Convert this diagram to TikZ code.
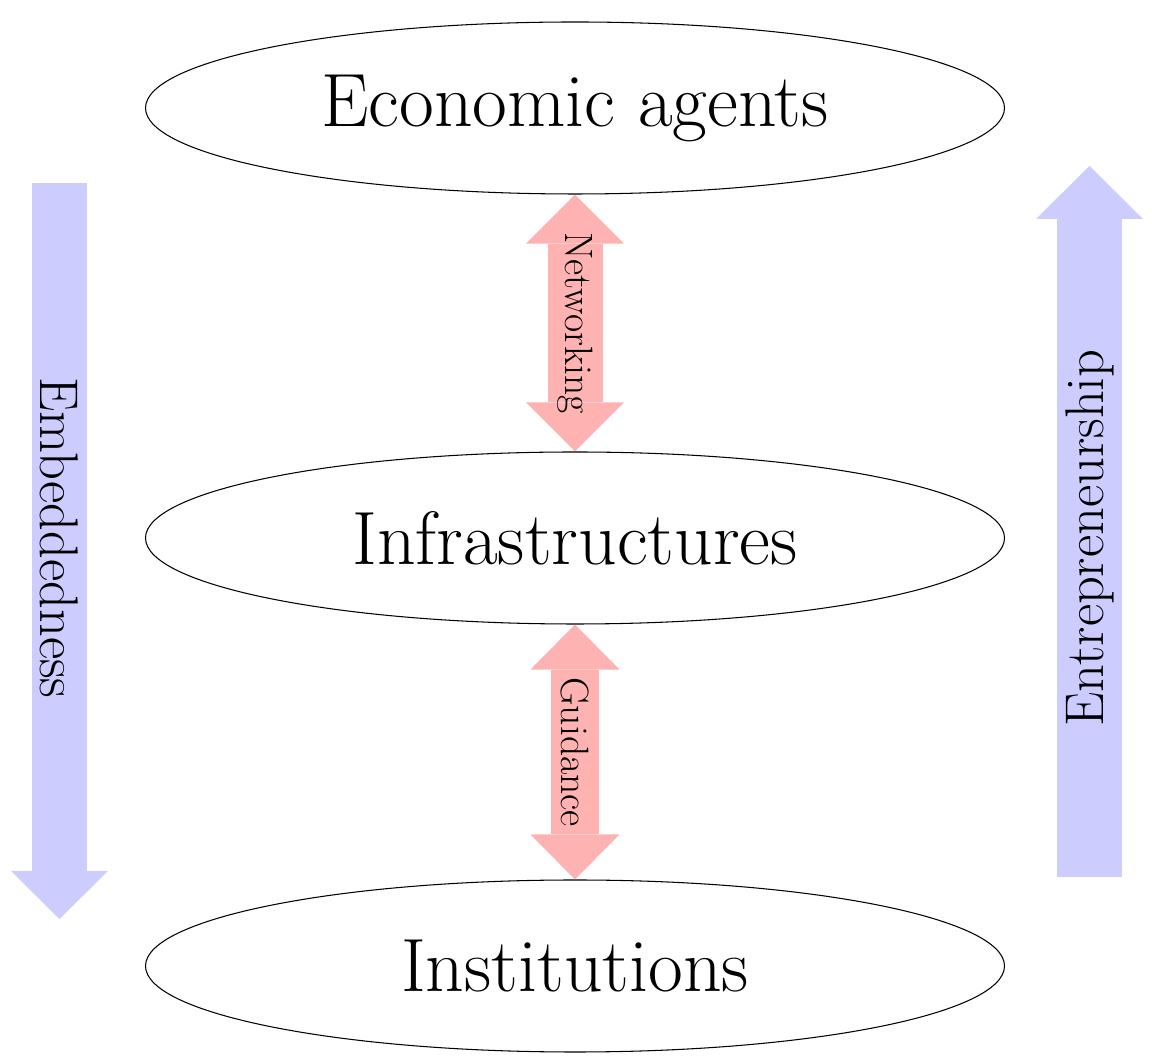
\documentclass[tikz,border=0pt]{standalone}
\usepackage{tikz}
\usetikzlibrary{shapes.geometric,arrows.meta,positioning,calc}

\begin{document}
\begin{tikzpicture}[
  level/.style={draw, ellipse, line width=0.6pt, minimum width=17.18cm, minimum height=3.44cm, inner sep=0pt, font=\fontsize{43}{50}\selectfont},
  link/.style={red!30, line width=#1},
  flow/.style={blue!20, line width=#1},
  tag/.style={black, rotate=-90, font=\fontsize{22.5}{27}\selectfont},
  side/.style={black, font=\fontsize{31}{37}\selectfont}
]
\useasboundingbox (0,0) rectangle (23.04,21.28);
% Levels
\node[level] (agents) at (11.5,19.12) {Economic agents};
\node[level] (infra) at (11.5,10.52) {Infrastructures};
\node[level] (inst) at (11.5,1.96) {Institutions};
% Links between levels
\draw[link=1.1cm, {Triangle[length=0.98cm 0, width=1.96cm 0, line width=0pt 0]}-{Triangle[length=0.98cm 0, width=1.96cm 0, line width=0pt 0]}]
  (agents) -- (infra) node[midway, tag] (net) {Networking};
\draw[link=0.96cm, {Triangle[length=0.9cm 0, width=1.78cm 0, line width=0pt 0]}-{Triangle[length=0.9cm 0, width=1.78cm 0, line width=0pt 0]}]
  (infra) -- (inst) node[midway, tag] (guide) {Guidance};
% Embeddedness (downward)
\coordinate (embtop) at (1.19,17.62);
\coordinate (embtip) at (1.19,2.90);
\draw[flow=1.1cm, -{Triangle[length=0.96cm 0, width=1.94cm 0, line width=0pt 0]}] (embtop) -- (embtip);
\node[side, rotate=-90] (embed) at (1.19,10.52) {Embeddedness};
% Entrepreneurship (upward)
\coordinate (entbot) at (21.79,3.74);
\coordinate (enttip) at (21.79,17.96);
\draw[flow=1.3cm, -{Triangle[length=1.06cm 0, width=2.14cm 0, line width=0pt 0]}] (entbot) -- (enttip);
\node[side, rotate=90] (entre) at (21.79,10.52) {Entrepreneurship};
\end{tikzpicture}
\end{document}
